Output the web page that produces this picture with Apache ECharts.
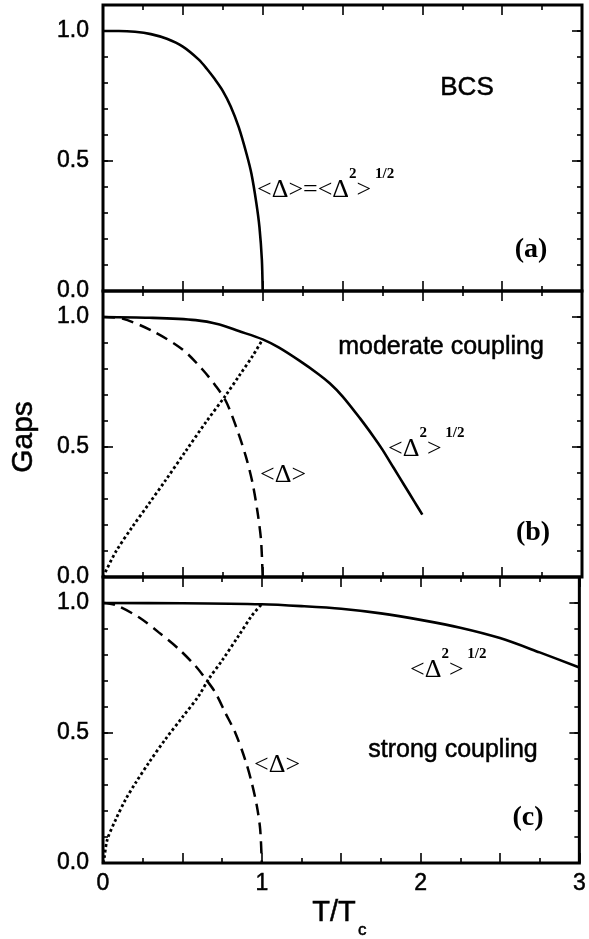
<!DOCTYPE html>
<html>
<head>
<meta charset="utf-8">
<script src="https://cdn.jsdelivr.net/npm/echarts@6/dist/echarts.min.js"></script>
<style>
  html, body { margin: 0; padding: 0; background: #fff; }
  #gaps_chart { width: 589px; height: 939px; }
</style>
</head>
<body>
<div id="gaps_chart"></div>
<script>
// tick labels
var yTickLabels = ['0.0', '0.5', '1.0'];
var xTickLabels = ['0', '1', '2', '3'];

// panel (a) BCS: <Δ> = <Δ²>^1/2
var bcsT   = [0, 0.1, 0.2, 0.3, 0.4, 0.5, 0.6, 0.65, 0.7, 0.75, 0.8, 0.85, 0.9, 0.93, 0.96, 0.98, 0.995, 1.0];
var bcsGap = [1.0, 1.0, 0.997, 0.988, 0.97, 0.94, 0.89, 0.855, 0.815, 0.77, 0.71, 0.63, 0.525, 0.45, 0.34, 0.245, 0.12, 0.0];

// panel (b) moderate coupling
var modRmsT  = [0, 0.29, 0.58, 0.73, 0.85, 1.0, 1.1, 1.23, 1.35, 1.42, 1.5, 1.61, 1.7, 1.75, 1.82, 1.89, 1.95, 2.0];
var modRms   = [1.0, 0.997, 0.988, 0.971, 0.946, 0.914, 0.883, 0.832, 0.78, 0.745, 0.695, 0.61, 0.535, 0.49, 0.42, 0.35, 0.29, 0.24];
var modMeanT = [0, 0.121, 0.31, 0.498, 0.623, 0.707, 0.77, 0.833, 0.895, 0.937, 0.969, 0.99, 1.0];
var modMean  = [1.0, 0.994, 0.946, 0.875, 0.798, 0.734, 0.676, 0.579, 0.463, 0.36, 0.245, 0.14, 0.0];
var modDotT  = [0, 0.08, 0.184, 0.289, 0.393, 0.519, 0.644, 0.77, 0.854, 0.937, 1.0];
var modDot   = [0, 0.097, 0.193, 0.283, 0.373, 0.485, 0.595, 0.70, 0.775, 0.85, 0.914];

// panel (c) strong coupling
var strRmsT  = [0, 0.5, 1.0, 1.25, 1.5, 1.75, 2.0, 2.25, 2.5, 2.75, 3.0];
var strRms   = [1.0, 0.999, 0.995, 0.988, 0.978, 0.96, 0.935, 0.905, 0.865, 0.81, 0.752];
var strMeanT = [0, 0.08, 0.226, 0.351, 0.477, 0.582, 0.644, 0.707, 0.77, 0.833, 0.895, 0.937, 0.969, 0.99, 1.0];
var strMean  = [1.0, 0.992, 0.945, 0.887, 0.823, 0.758, 0.71, 0.656, 0.578, 0.501, 0.398, 0.308, 0.219, 0.129, 0.0];
var strDotT  = [0, 0.006, 0.027, 0.08, 0.142, 0.205, 0.289, 0.393, 0.498, 0.603, 0.665, 0.749, 0.854, 0.937, 1.0];
var strDot   = [0, 0.013, 0.09, 0.167, 0.244, 0.308, 0.386, 0.476, 0.559, 0.643, 0.707, 0.778, 0.874, 0.951, 0.996];

function pairs(xs, ys) {
  return xs.map(function (x, i) { return [x, ys[i]]; });
}

var SANS = 'Liberation Sans, Arial, sans-serif';
var SERIF = 'Liberation Serif, Times New Roman, serif';

// panel layout (pixels)
var panelTop = [5, 291, 577];
var panelH = 286;

var grids = [], xAxes = [], yAxes = [];
panelTop.forEach(function (top, g) {
  grids.push({
    left: 103, right: 7, top: top, height: panelH,
    show: true, backgroundColor: 'transparent',
    borderColor: '#000', borderWidth: 3, containLabel: false
  });
  ['bottom', 'top'].forEach(function (pos) {
    var labelled = (g === 2 && pos === 'bottom');
    xAxes.push({
      type: 'value', gridIndex: g, position: pos, min: 0, max: 3, interval: 0.5,
      axisLine: { show: false, onZero: false },
      axisTick: { show: true, inside: true, length: 10, lineStyle: { color: '#000', width: 1.6 } },
      minorTick: { show: true, splitNumber: 2, length: 5, lineStyle: { color: '#000', width: 1.6 } },
      splitLine: { show: false },
      axisLabel: {
        show: labelled, margin: 9, color: '#000', fontSize: 23, fontFamily: SANS,
        textBorderColor: '#000', textBorderWidth: 0.5,
        formatter: function (v) {
          var r = Math.round(v * 100) / 100;
          return (r % 1 === 0) ? xTickLabels[r] : '';
        }
      }
    });
  });
  ['left', 'right'].forEach(function (pos) {
    // minor ticks every 0.1
    yAxes.push({
      type: 'value', gridIndex: g, position: pos, min: 0, max: 1.1, interval: 0.1,
      axisLine: { show: false, onZero: false },
      axisTick: { show: true, inside: true, length: 5, lineStyle: { color: '#000', width: 1.6 } },
      splitLine: { show: false },
      axisLabel: { show: false }
    });
    // major ticks every 0.5
    yAxes.push({
      type: 'value', gridIndex: g, position: pos, min: 0, max: 1.1, interval: 0.5,
      axisLine: { show: false, onZero: false },
      axisTick: { show: true, inside: true, length: 10, lineStyle: { color: '#000', width: 1.6 } },
      splitLine: { show: false },
      axisLabel: {
        show: pos === 'left', margin: 14, color: '#000', fontSize: 23, fontFamily: SANS,
        textBorderColor: '#000', textBorderWidth: 0.5,
        formatter: function (v) {
          var k = Math.round(v * 2);
          return (Math.abs(v * 2 - k) < 1e-6 && k <= 2) ? yTickLabels[k] : '';
        }
      }
    });
  });
});

function curve(g, data, kind) {
  var ls = { color: '#000', width: 2.6, type: 'solid' };
  if (kind === 'dash') ls = { color: '#000', width: 2.5, type: [12, 7] };
  if (kind === 'dot') ls = { color: '#000', width: 2.8, type: [2.8, 2.6] };
  return {
    type: 'line', xAxisIndex: 2 * g, yAxisIndex: 4 * g + 1,
    data: data, showSymbol: false, symbol: 'none',
    smooth: 0.3,
    lineStyle: ls, silent: true, animation: false, clip: true
  };
}

var series = [
  curve(0, pairs(bcsT, bcsGap), 'solid'),
  curve(1, pairs(modRmsT, modRms), 'solid'),
  curve(1, pairs(modMeanT, modMean), 'dash'),
  curve(1, pairs(modDotT, modDot), 'dot'),
  curve(2, pairs(strRmsT, strRms), 'solid'),
  curve(2, pairs(strMeanT, strMean), 'dash'),
  curve(2, pairs(strDotT, strDot), 'dot')
];

// rich text styles for <Δ> labels with superscripts
var gapRich = {
  m: { fontSize: 26, fontFamily: SERIF, lineHeight: 36, verticalAlign: 'bottom', fill: '#000' },
  s: { fontSize: 15, fontFamily: SERIF, fontWeight: 'bold', lineHeight: 14, verticalAlign: 'top', fill: '#000' }
};

function plainText(x, y, text, size, family, weight, align) {
  return {
    type: 'text', x: x, y: y, z: 100,
    style: {
      text: text, fill: '#000', fontSize: size, fontFamily: family,
      fontWeight: weight || 'normal', align: align || 'center', verticalAlign: 'middle',
      stroke: family === SANS ? '#000' : null, lineWidth: family === SANS ? 0.5 : 0
    }
  };
}
function gapText(x, y, text) {
  return {
    type: 'text', x: x, y: y, z: 100,
    style: { text: text, align: 'left', verticalAlign: 'middle', rich: gapRich }
  };
}

var graphics = [
  plainText(467, 88, 'BCS', 26, SANS),
  gapText(257, 185, '{m|<Δ>=<Δ}{s|2}{m|>}{s| 1/2}'),
  plainText(531, 250, '(a)', 28, SERIF, 'bold'),

  plainText(441, 347, 'moderate coupling', 25, SANS),
  gapText(388, 444, '{m|<Δ}{s|2}{m|>}{s| 1/2}'),
  gapText(260, 470, '{m|<Δ>}'),
  plainText(533, 533, '(b)', 28, SERIF, 'bold'),

  gapText(410, 665, '{m|<Δ}{s|2}{m|>}{s| 1/2}'),
  plainText(453, 750, 'strong coupling', 25, SANS),
  gapText(254, 760, '{m|<Δ>}'),
  plainText(528, 818, '(c)', 28, SERIF, 'bold'),

  plainText(334, 913, 'T/T', 29, SANS),
  plainText(358, 930, 'c', 17, SANS, 'normal', 'left'),
  {
    type: 'text', x: 24, y: 437, rotation: Math.PI / 2, z: 100,
    style: { text: 'Gaps', fill: '#000', fontSize: 30, fontFamily: SANS, align: 'center', verticalAlign: 'middle',
             stroke: '#000', lineWidth: 0.5 }
  }
];

var myChart = echarts.init(document.getElementById('gaps_chart'), null, { renderer: 'canvas' });
myChart.setOption({
  backgroundColor: '#fff',
  animation: false,
  grid: grids,
  xAxis: xAxes,
  yAxis: yAxes,
  series: series,
  graphic: graphics
});
window.addEventListener('resize', function () { myChart.resize(); });
</script>
</body>
</html>
